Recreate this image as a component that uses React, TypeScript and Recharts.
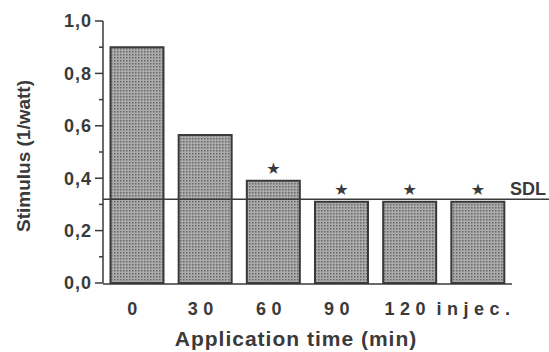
import { BarChart, Bar, XAxis, YAxis, ReferenceLine, LabelList } from 'recharts'

const times = ['0', '30', '60', '90', '120', 'injec.']
const stimulus = [0.9, 0.565, 0.39, 0.31, 0.31, 0.31]
const significant = [false, false, true, true, true, true]
const yTicks = [0, 0.1, 0.2, 0.3, 0.4, 0.5, 0.6, 0.7, 0.8, 0.9, 1.0]
const xBounds = [0, 1, 2, 3, 4, 5, 6]
const sdl = 0.32

const ink = '#3a3a3a'
const font = "'Liberation Sans', Arial, sans-serif"
const narrow = "'Liberation Sans Narrow', 'Liberation Sans', Arial, sans-serif"

const data = times.map((time, i) => ({
  time,
  pos: i + 0.5,
  stimulus: stimulus[i],
  star: significant[i] ? '★' : '',
}))

function YTick({ x, y, payload }: any) {
  const v = payload.value as number
  const major = Math.round(v * 10) % 2 === 0
  return (
    <g>
      <line x1={x - (major ? 8 : 4)} x2={x} y1={y} y2={y} stroke={ink} strokeWidth={1.5} />
      {major && (
        <text
          x={x - 11}
          y={y}
          dy="0.36em"
          textAnchor="end"
          fill={ink}
          fontFamily={narrow}
          fontWeight="bold"
          fontSize={18}
          letterSpacing={1}
        >
          {v.toFixed(1).replace('.', ',')}
        </text>
      )}
    </g>
  )
}

function XTick({ x, y, payload }: any) {
  return (
    <text
      x={x}
      y={y + 32}
      dx={-2}
      textAnchor="middle"
      fill={ink}
      fontFamily={narrow}
      fontWeight="bold"
      fontSize={18}
      letterSpacing={5.5}
    >
      {payload.value}
    </text>
  )
}

function StarLabel({ x, y, width, value }: any) {
  if (!value) return null
  return (
    <text
      x={x + width / 2}
      y={y - 12}
      dominantBaseline="central"
      textAnchor="middle"
      fill={ink}
      fontFamily="'DejaVu Sans', sans-serif"
      fontSize={16}
    >
      {value}
    </text>
  )
}

function SdlLine(props: any) {
  const { x1, x2, y1 } = props
  return (
    <g>
      <line x1={x1} x2={x2 + 40} y1={y1} y2={y1} stroke={ink} strokeWidth={1.5} />
      <text x={x2 - 2} y={y1 - 4} fill={ink} fontFamily={font} fontWeight="bold" fontSize={18}>
        SDL
      </text>
    </g>
  )
}

export default function App() {
  return (
    <div style={{ position: 'absolute', left: 0, top: 0, background: '#fff' }}>
      <BarChart
        width={549}
        height={352}
        data={data}
        margin={{ top: 21, right: 37, left: 43, bottom: 67 }}
        barCategoryGap="11%"
      >
        <defs>
          <pattern id="stipple" width="3" height="3" patternUnits="userSpaceOnUse">
            <rect width="3" height="3" fill="#ababab" />
            <rect x="0" y="0" width="1.5" height="1.5" fill="#686868" />
          </pattern>
        </defs>
        <XAxis
          xAxisId="num"
          type="number"
          dataKey="pos"
          domain={[0, 6]}
          ticks={xBounds}
          tick={false}
          tickSize={6}
          height={1}
          axisLine={{ stroke: ink, strokeWidth: 1.5 }}
          tickLine={{ stroke: ink, strokeWidth: 1.5 }}
        />
        <XAxis
          xAxisId="cat"
          dataKey="time"
          height={1}
          axisLine={false}
          tickLine={false}
          tickSize={0}
          tickMargin={0}
          interval={0}
          tick={<XTick />}
          label={{
            content: ({ viewBox }: any) => (
              <text
                x={296}
                y={viewBox.y + 63}
                textAnchor="middle"
                fill={ink}
                fontFamily={font}
                fontWeight="bold"
                fontSize={21}
                letterSpacing={1}
              >
                Application time (min)
              </text>
            ),
          }}
        />
        <YAxis
          width={60}
          domain={[0, 1]}
          ticks={yTicks}
          interval={0}
          tickSize={0}
          tickMargin={0}
          tickLine={false}
          axisLine={{ stroke: ink, strokeWidth: 1.5 }}
          tick={<YTick />}
          label={{
            content: () => (
              <text
                x={23}
                y={156}
                transform="rotate(-90 23 156)"
                textAnchor="middle"
                dominantBaseline="central"
                fill={ink}
                fontFamily={font}
                fontWeight="bold"
                fontSize={19}
              >
                Stimulus (1/watt)
              </text>
            ),
          }}
        />
        <Bar
          xAxisId="cat"
          dataKey="stimulus"
          fill="url(#stipple)"
          stroke={ink}
          strokeWidth={2}
          isAnimationActive={false}
        >
          <LabelList dataKey="star" content={<StarLabel />} />
        </Bar>
        <ReferenceLine xAxisId="cat" y={sdl} shape={(p: any) => <SdlLine {...p} />} />
      </BarChart>
    </div>
  )
}
